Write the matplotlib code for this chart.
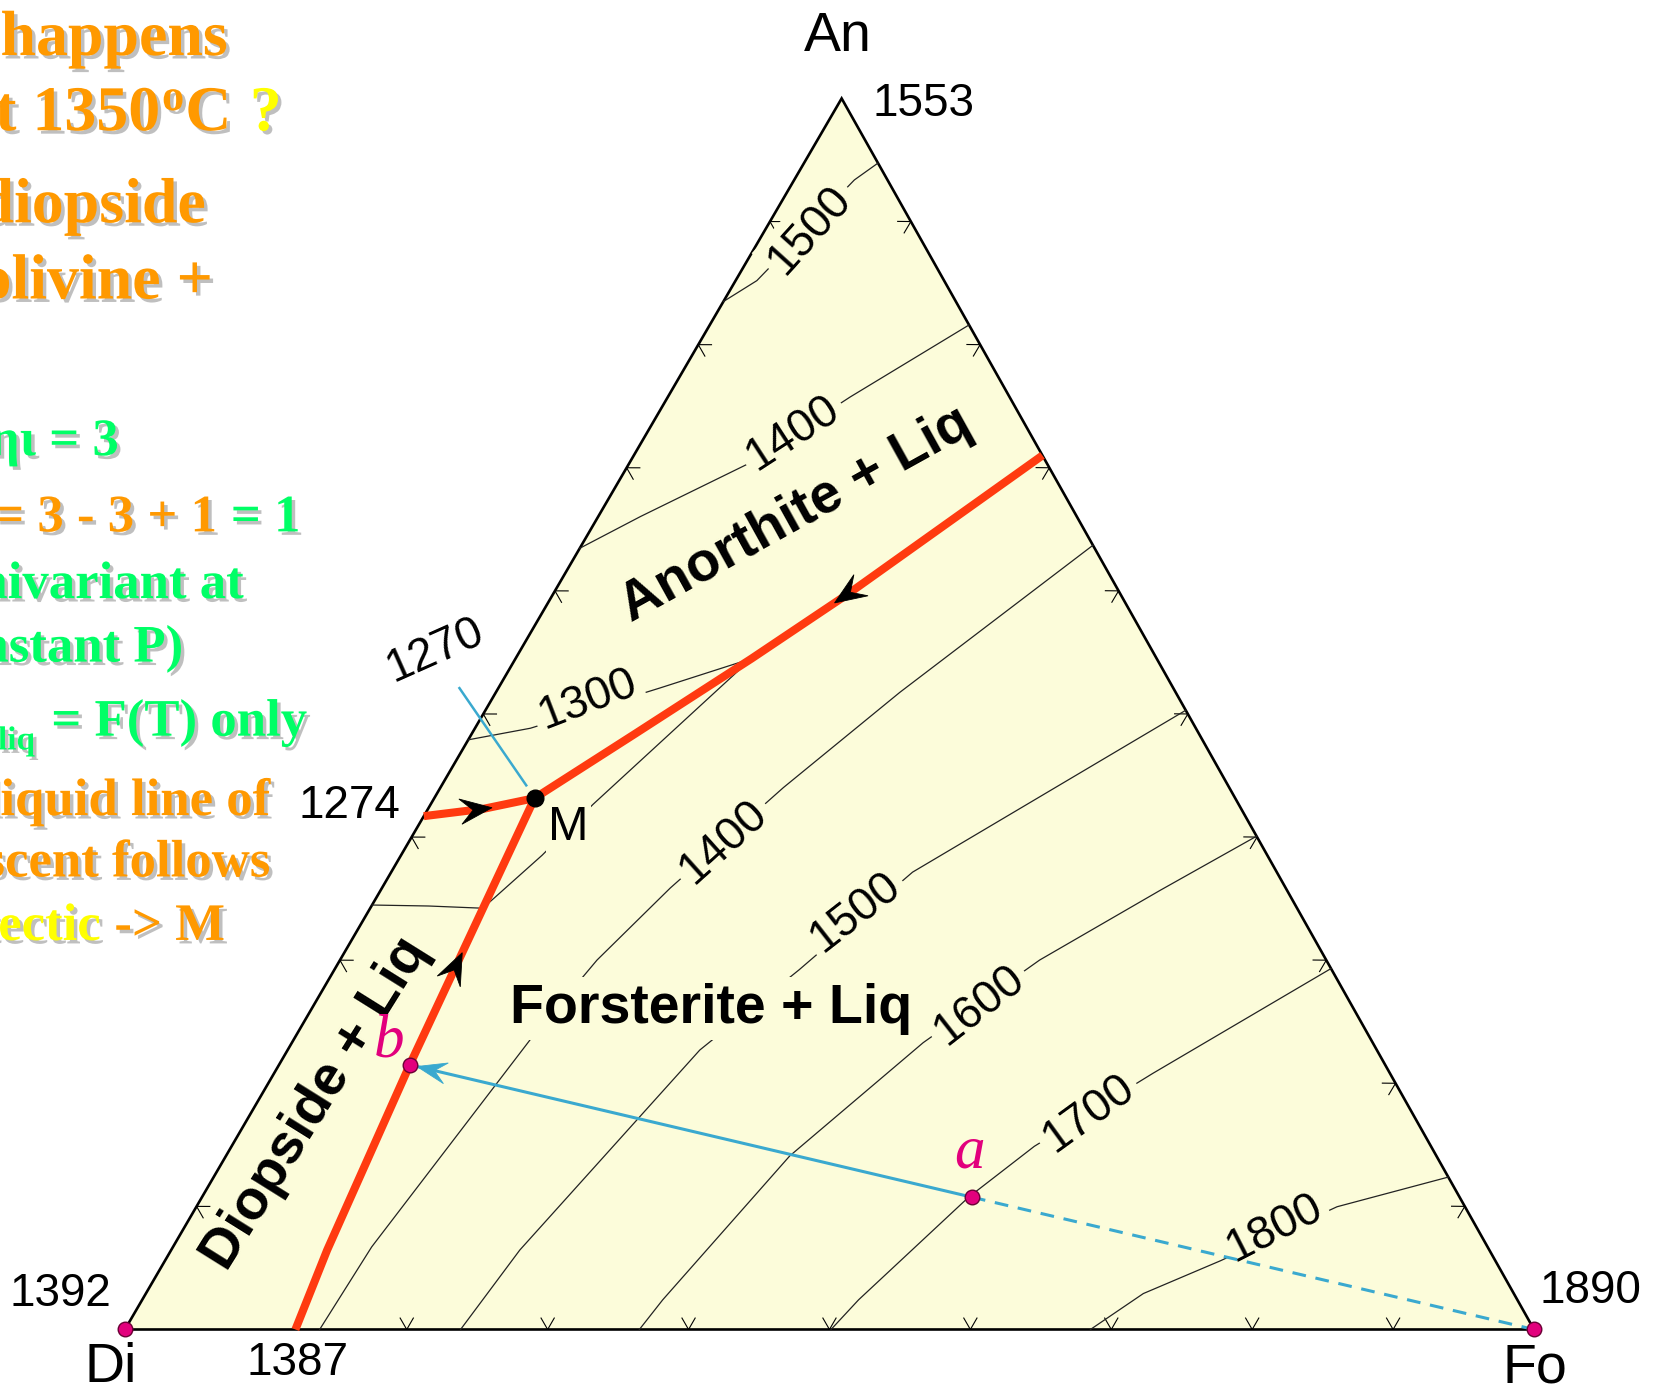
import numpy as np
import matplotlib
matplotlib.use("Agg")
import matplotlib.pyplot as plt
from matplotlib import patheffects as pe
from matplotlib.patches import Polygon

# ---------------------------------------------------------------------------
# System Di - An - Fo at 1 atm.  Compositions are (An, Fo) weight fractions,
# Di = 1 - An - Fo.
# ---------------------------------------------------------------------------
cotectic_di_fo = [(0.0, 0.121), (0.0645, 0.1107), (0.215, 0.0928), (0.349, 0.0794), (0.4316, 0.0712)]
cotectic_di_an = [(0.417, 0.0), (0.423, 0.0395), (0.4316, 0.0712)]
cotectic_an_fo = [(0.71, 0.29), (0.5985, 0.210), (0.545, 0.1675), (0.484, 0.116), (0.4316, 0.0712)]

eutectic_m = (0.4316, 0.0712)
point_a = (0.1075, 0.5464)
point_b = (0.215, 0.0928)
leader_1270 = [(0.521, -0.0276), (0.442, 0.060)]

# liquidus isotherms (deg C)
iso1300_di = [(0.3448, 0.0), (0.344, 0.0406), (0.3422, 0.0799)]
iso1300_an = [(0.479, 0.0), (0.4884, 0.0393), (0.521, 0.1144), (0.545, 0.1675)]
iso1400_an = [(0.6346, 0.0), (0.6604, 0.030), (0.7025, 0.0837), (0.7575, 0.1294), (0.816, 0.184)]
iso1500_an = [(0.835, 0.0), (0.852, 0.0151), (0.9338, 0.0427), (0.9475, 0.0525)]
iso1300_fo = [(0.3422, 0.0799), (0.3852, 0.1001), (0.4265, 0.1152), (0.545, 0.1675)]
iso1400_fo = [(0.0, 0.1382), (0.0671, 0.141), (0.2356, 0.1679), (0.3001, 0.1824), (0.3586, 0.2046),
              (0.4402, 0.2434), (0.5176, 0.2867), (0.6371, 0.363)]
iso1500_fo = [(0.0, 0.2382), (0.0645, 0.2474), (0.227, 0.2925), (0.2923, 0.3299), (0.3715, 0.370), (0.503, 0.497)]
iso1600_fo = [(0.0, 0.3651), (0.0241, 0.3694), (0.141, 0.4001), (0.233, 0.448), (0.3001, 0.4965),
              (0.3568, 0.5533), (0.4007, 0.5993)]
iso1700_fo = [(0.0, 0.5011), (0.0241, 0.5084), (0.1075, 0.5441), (0.1488, 0.5697), (0.2081, 0.6237), (0.2932, 0.7068)]
iso1800_fo = [(0.0, 0.6852), (0.0292, 0.7079), (0.0559, 0.7492), (0.0997, 0.8095), (0.1238, 0.8762)]

# isotherm labels: text, (An, Fo) position, rotation
iso_labels = [("1300", (0.512, 0.068), 21), ("1400", (0.7283, 0.1036), 33), ("1500", (0.8934, 0.0317), 48),
              ("1400", (0.3964, 0.2229), 42), ("1500", (0.3388, 0.346), 38), ("1600", (0.2631, 0.4725), 38),
              ("1700", (0.1754, 0.5945), 36), ("1800", (0.0825, 0.774), 27)]

# tick fractions along the joins
ticks_di_an = [0.1, 0.3, 0.4, 0.5, 0.6, 0.7, 0.8, 0.9]
ticks_an_fo = [0.1, 0.2, 0.3, 0.4, 0.5, 0.6, 0.7, 0.8, 0.9]
ticks_di_fo = [0.2, 0.3, 0.4, 0.5, 0.6, 0.7, 0.8, 0.9]

# melting / eutectic temperatures
t_an, t_di, t_fo = 1553, 1392, 1890
t_di_fo, t_di_an, t_m = 1387, 1274, 1270

# ---------------------------------------------------------------------------
FILL = "#fcfcda"
RED = "#ff3a10"
BLUE = "#3aa9cf"
MAG = "#e2007d"
ORANGE = "#ff9900"
GREEN = "#00ff66"
YELLOW = "#ffff00"
SANS = "Liberation Sans"
SERIF = "Liberation Serif"

V_DI = np.array([118.0, 1256.0])
V_FO = np.array([1449.0, 1256.0])
V_AN = np.array([795.0, 93.0])


def to_xy(pts):
    p = np.atleast_2d(np.asarray(pts, dtype=float))
    return V_DI + np.outer(p[:, 0], V_AN - V_DI) + np.outer(p[:, 1], V_FO - V_DI)


def along(xy, frac):
    seg = np.diff(xy, axis=0)
    ln = np.hypot(seg[:, 0], seg[:, 1])
    cum = np.concatenate([[0.0], np.cumsum(ln)])
    s = frac * cum[-1]
    i = int(np.clip(np.searchsorted(cum, s) - 1, 0, len(ln) - 1))
    t = (s - cum[i]) / ln[i]
    return xy[i] + t * seg[i], seg[i] / ln[i]


fig = plt.figure(figsize=(16.6, 13.93), dpi=100)
ax = fig.add_axes([0, 0, 1, 1])
ax.set_xlim(0, 1568)
ax.set_ylim(1316, 0)
ax.axis("off")


def barb(p, u, length=30, width=24, color="k", z=7):
    n = np.array([-u[1], u[0]])
    tip = p + u * length * 0.5
    back = p - u * length * 0.5
    pts = [tip, back + n * width / 2, p - u * length * 0.1, back - n * width / 2]
    ax.add_patch(Polygon(pts, closed=True, fc=color, ec=color, lw=0.6, zorder=z))


# triangle
corners = to_xy([(0, 0), (0, 1), (1, 0)])
ax.add_patch(Polygon(corners, closed=True, fc=FILL, ec="black", lw=1.9, zorder=1, joinstyle="miter"))
centroid = corners.mean(axis=0)


def chevrons(p0, p1, fracs, arm=13, half=30):
    d = (p1 - p0) / np.linalg.norm(p1 - p0)
    n = np.array([-d[1], d[0]])
    if np.dot(centroid - p0, n) < 0:
        n = -n
    ang = np.arctan2(n[1], n[0])
    for f in fracs:
        p = p0 + f * (p1 - p0)
        for s in (-1, 1):
            a = ang + s * np.radians(half)
            q = p + arm * np.array([np.cos(a), np.sin(a)])
            ax.plot([p[0], q[0]], [p[1], q[1]], color="k", lw=0.8, zorder=2, solid_capstyle="butt")


di_xy, fo_xy, an_xy = corners[0], corners[1], corners[2]
chevrons(di_xy, an_xy, ticks_di_an)
chevrons(fo_xy, an_xy, ticks_an_fo)
chevrons(di_xy, fo_xy, ticks_di_fo)

# isotherms
for iso in (iso1300_di, iso1300_an, iso1400_an, iso1500_an, iso1300_fo,
            iso1400_fo, iso1500_fo, iso1600_fo, iso1700_fo, iso1800_fo):
    xy = to_xy(iso)
    ax.plot(xy[:, 0], xy[:, 1], color="#222222", lw=0.9, zorder=2, solid_joinstyle="round")

for txt, pos, rot in iso_labels:
    xy = to_xy([pos])[0]
    ax.text(xy[0], xy[1], txt, fontsize=33, family=SANS, rotation=rot, ha="center", va="center",
            rotation_mode="anchor", zorder=3,
            bbox=dict(boxstyle="square,pad=0.12", fc=FILL, ec="none"))

# cotectic boundary curves with direction arrows
for cot, frac in ((cotectic_di_fo, 0.68), (cotectic_di_an, 0.47), (cotectic_an_fo, 0.39)):
    xy = to_xy(cot)
    ax.plot(xy[:, 0], xy[:, 1], color=RED, lw=5.8, zorder=5, solid_capstyle="butt", solid_joinstyle="round")
    p, u = along(xy, frac)
    barb(p, u)

# crystallisation path a -> b and its extension back to Fo
a_xy = to_xy([point_a])[0]
b_xy = to_xy([point_b])[0]
ax.plot([a_xy[0], b_xy[0]], [a_xy[1], b_xy[1]], color=BLUE, lw=2.2, zorder=6)
ax.plot([a_xy[0], fo_xy[0]], [a_xy[1], fo_xy[1]], color=BLUE, lw=2.2, zorder=6,
        linestyle=(0, (4.5, 3.2)))
u = (b_xy - a_xy) / np.linalg.norm(b_xy - a_xy)
barb(b_xy - u * 21, u, length=28, width=20, color=BLUE, z=7)

lead = to_xy(leader_1270)
ax.plot(lead[:, 0], lead[:, 1], color=BLUE, lw=1.8, zorder=6)

# points
for pt in (di_xy, fo_xy, a_xy, b_xy):
    ax.plot(pt[0], pt[1], "o", ms=10.5, mfc=MAG, mec="#6a0035", mew=1.0, zorder=8)
m_xy = to_xy([eutectic_m])[0]
ax.plot(m_xy[0], m_xy[1], "o", ms=12, color="black", zorder=8)

# diagram text
def lab(x, y, s, size=33, **kw):
    ax.text(x, y, s, fontsize=size, family=SANS, ha="center", va="center", zorder=9, **kw)


lab(791, 35, "An", size=40)
lab(105, 1292, "Di", size=40)
lab(1450, 1293, "Fo", size=40)
lab(872, 98, str(t_an))
lab(57, 1222, str(t_di))
lab(1502, 1220, str(t_fo))
lab(281, 1288, str(t_di_fo))
lab(330, 761, str(t_di_an))
lab(411, 614, str(t_m), rotation=24)
ax.text(537, 782, "M", fontsize=35, family=SANS, ha="center", va="center", zorder=4,
        bbox=dict(boxstyle="square,pad=0.05", fc=FILL, ec="none"))

ax.text(752, 487, "Anorthite + Liq", fontsize=40, family=SANS, fontweight="bold",
        rotation=29, ha="center", va="center", zorder=4)
ax.text(672, 953, "Forsterite + Liq", fontsize=40, family=SANS, fontweight="bold",
        ha="center", va="center", zorder=4,
        bbox=dict(boxstyle="square,pad=0.1", fc=FILL, ec="none"))
ax.text(298, 1043, "Diopside + Liq", fontsize=40, family=SANS, fontweight="bold",
        rotation=58, ha="center", va="center", zorder=4)

ax.text(a_xy[0] - 2, a_xy[1] - 42, "a", fontsize=44, family=SERIF, style="italic", color=MAG,
        ha="center", va="center", zorder=9)
ax.text(b_xy[0] - 20, b_xy[1] - 22, "b", fontsize=44, family=SERIF, style="italic", color=MAG,
        ha="center", va="center", zorder=9)

# slide text on the left
SHADOW = [pe.SimplePatchShadow(offset=(2.5, -2.5), shadow_rgbFace=(0.45, 0.45, 0.45), alpha=0.45), pe.Normal()]


def slide(x, y, s, color, size=38, ha="right"):
    ax.text(x, y, s, color=color, fontsize=size, family=SERIF, fontweight="bold", ha=ha,
            va="baseline", path_effects=SHADOW, zorder=10)


slide(215, 52, "What happens", ORANGE, 46)
slide(151, 123, "at 1350", ORANGE, 46)
slide(153, 104, "o", ORANGE, 32, ha="left")
slide(175, 123, "C", ORANGE, 46, ha="left")
slide(236, 123, "?", YELLOW, 46, ha="left")
slide(194, 210, "diopside", ORANGE, 46)
slide(201, 282, "olivine +", ORANGE, 46)

slide(112, 430, "\u03c6\u03b7\u03b9 = 3", GREEN)
slide(205, 502, "F = 3 - 3 + 1", ORANGE)
slide(218, 502, "= 1", GREEN, ha="left")
slide(230, 565, "univariant at", GREEN)
slide(173, 625, "(constant P)", GREEN)
slide(33, 708, "liq", GREEN, 24)
slide(290, 695, "= F(T) only", GREEN)
slide(255, 770, "liquid line of", ORANGE)
slide(255, 828, "descent follows", ORANGE)
slide(95, 888, "cotectic", YELLOW)
slide(108, 888, "-> M", ORANGE, ha="left")

fig.savefig("out.png", dpi=100, facecolor="white")
